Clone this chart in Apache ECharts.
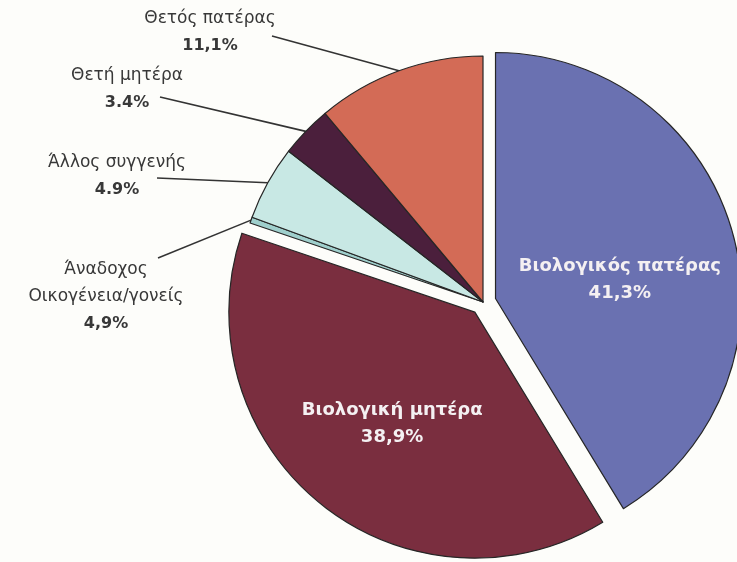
<!DOCTYPE html>
<html>
<head>
<meta charset="utf-8">
<script src="https://cdn.jsdelivr.net/npm/echarts@6/dist/echarts.min.js"></script>
<style>
    html, body { margin: 0; padding: 0; background: #fdfdfa; }
    #chart { width: 737px; height: 562px; }
</style>
</head>
<body>
<div id="chart"></div>
<script>
// δεδομένα
let names = ['Βιολογικός πατέρας', 'Βιολογική μητέρα', 'Άναδοχος\nΟικογένεια/γονείς', 'Άλλος συγγενής', 'Θετή μητέρα', 'Θετός πατέρας']
let values = [41.3, 38.9, 0.4, 4.9, 3.4, 11.1]
// τα ποσοστά όπως γράφονται στην εικόνα
let pctText = ['41,3%', '38,9%', '4,9%', '4.9%', '3.4%', '11,1%']
let colors = ['#6a71b1', '#7a2e3f', '#9fcfcc', '#c8e8e4', '#4b1f3c', '#d36b56']
let inside = [true, true, false, false, false, false]

// εξωτερικές ετικέτες: κέντρο κειμένου και άκρο γραμμής
let labelPos = [null, null, [106, 297], [117, 176], [127, 89], [210, 32]]
let lineEnd = [null, null, [158, 258], [157, 178], [160, 97], [272, 36]]
// εσωτερικές ετικέτες: μικρή μετατόπιση
let labelShift = [[3, 15], [-4, 13], null, null, null, null]

let myChart = echarts.init(document.getElementById('chart'))

let whiteText = { color: '#f4f0f2', fontSize: 18, fontWeight: 'bold', lineHeight: 27, fontFamily: 'DejaVu Sans' }

let data = []
for (let i = 0; i < names.length; i++) {
    data.push({
        name: names[i],
        value: values[i],
        selected: inside[i],
        itemStyle: { color: colors[i] },
        label: inside[i]
            ? { position: 'inside', rich: { n: whiteText, p: whiteText } }
            : { position: 'outside' },
        labelLine: { show: !inside[i] }
    })
}

let option = {
    backgroundColor: '#fdfdfa',
    animation: false,
    series: [
        {
            type: 'pie',
            center: [483, 302],
            radius: [0, 246],
            startAngle: 90,
            clockwise: true,
            selectedMode: 'multiple',
            selectedOffset: 13,
            avoidLabelOverlap: false,
            itemStyle: {
                borderColor: '#262626',
                borderWidth: 1.2
            },
            label: {
                formatter: function (p) {
                    return '{n|' + p.name + '}\n{p|' + pctText[p.dataIndex] + '}'
                },
                rich: {
                    n: { color: '#383838', fontSize: 17, lineHeight: 27, fontFamily: 'DejaVu Sans', align: 'center' },
                    p: { color: '#383838', fontSize: 16, fontWeight: 'bold', lineHeight: 27, fontFamily: 'DejaVu Sans', align: 'center' }
                }
            },
            labelLine: {
                lineStyle: { color: '#333', width: 1.6 }
            },
            labelLayout: function (p) {
                let i = p.dataIndex
                if (inside[i]) {
                    return { dx: labelShift[i][0], dy: labelShift[i][1] }
                }
                let res = { x: labelPos[i][0], y: labelPos[i][1], align: 'center', verticalAlign: 'middle' }
                if (p.labelLinePoints) {
                    res.labelLinePoints = [p.labelLinePoints[0], lineEnd[i], lineEnd[i]]
                }
                return res
            },
            emphasis: { disabled: true },
            data: data
        }
    ]
}
myChart.setOption(option)
</script>
</body>
</html>
